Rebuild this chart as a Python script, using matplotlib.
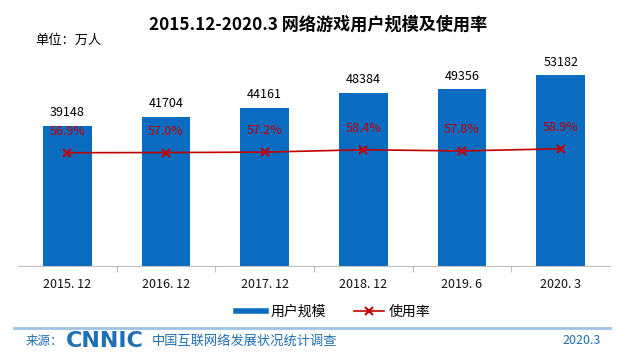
import matplotlib.pyplot as plt
from matplotlib.lines import Line2D

plt.rcParams['font.family'] = ['Noto Sans CJK SC', 'DejaVu Sans']

periods = ['2015. 12', '2016. 12', '2017. 12', '2018. 12', '2019. 6', '2020. 3']
users = [39148, 41704, 44161, 48384, 49356, 53182]
rate = [56.9, 57.0, 57.2, 58.4, 57.8, 58.9]

bar_color = '#0A6CC0'
line_color = '#C00000'

fig = plt.figure(figsize=(6.37, 3.64), dpi=100)
ax = fig.add_axes([18 / 637, 1 - 266 / 364, 592 / 637, 215 / 364])
x = list(range(len(periods)))
ax.bar(x, users, width=0.49, color=bar_color, zorder=2)
for xi, v in zip(x, users):
    ax.text(xi, v + 1800, str(v), ha='center', va='bottom', fontsize=9, color='black')
ax.set_xlim(-0.5, len(periods) - 0.5)
ax.set_ylim(0, 60000)
ax.set_yticks([])
for s in ['top', 'left', 'right']:
    ax.spines[s].set_visible(False)
ax.spines['bottom'].set_color('#BFBFBF')
ax.set_xticks([i + 0.5 for i in x[:-1]])
ax.set_xticklabels([])
ax.tick_params(axis='x', length=4, color='#BFBFBF', direction='out')
for xi, lab in zip(x, periods):
    ax.text(xi, -3300, lab, ha='center', va='top', fontsize=9, fontweight='medium',
            color='#111111')

ax2 = ax.twinx()
ax2.plot(x, rate, color=line_color, lw=1.2, marker='x', ms=6, mew=1.5, zorder=3)
for xi, r in zip(x, rate):
    ax2.text(xi, r + 7.5, f'{r:.1f}%', ha='center', va='bottom', fontsize=9, color=line_color)
ax2.set_ylim(0, 108)
ax2.set_yticks([])
for s in ['top', 'left', 'right', 'bottom']:
    ax2.spines[s].set_visible(False)

fig.text(318 / 637, 1 - 25 / 364, '2015.12-2020.3 网络游戏用户规模及使用率', ha='center', va='center',
         fontsize=12.3, fontweight='bold')
fig.text(35 / 637, 1 - 40 / 364, '单位：万人', ha='left', va='center', fontsize=9.5)

handles = [Line2D([0], [0], color=bar_color, lw=4),
           Line2D([0], [0], color=line_color, lw=1.2, marker='x', ms=6, mew=1.5)]
fig.legend(handles, ['用户规模', '使用率'], loc='center', bbox_to_anchor=(333 / 637, 1 - 312 / 364),
           ncol=2, frameon=False, fontsize=10, handlelength=2.2, columnspacing=2.0, handletextpad=0.3)

fig.add_artist(Line2D([14 / 637, 610 / 637], [1 - 328 / 364, 1 - 328 / 364], color='#9DC3E6', lw=2))
fig.text(26 / 637, 1 - 341 / 364, '来源：', ha='left', va='center', fontsize=9, color='#1F6FB5')
fig.text(66 / 637, 1 - 341 / 364, 'CNNIC', ha='left', va='center', fontsize=16, fontweight='bold',
         color='#1F6FB5', family='DejaVu Sans', stretch='expanded')
fig.text(152 / 637, 1 - 341 / 364, '中国互联网络发展状况统计调查', ha='left', va='center', fontsize=9.5,
         color='#1F6FB5')
fig.text(601 / 637, 1 - 341 / 364, '2020.3', ha='right', va='center', fontsize=9, color='#1F6FB5')

fig.savefig('out.png', dpi=100)
